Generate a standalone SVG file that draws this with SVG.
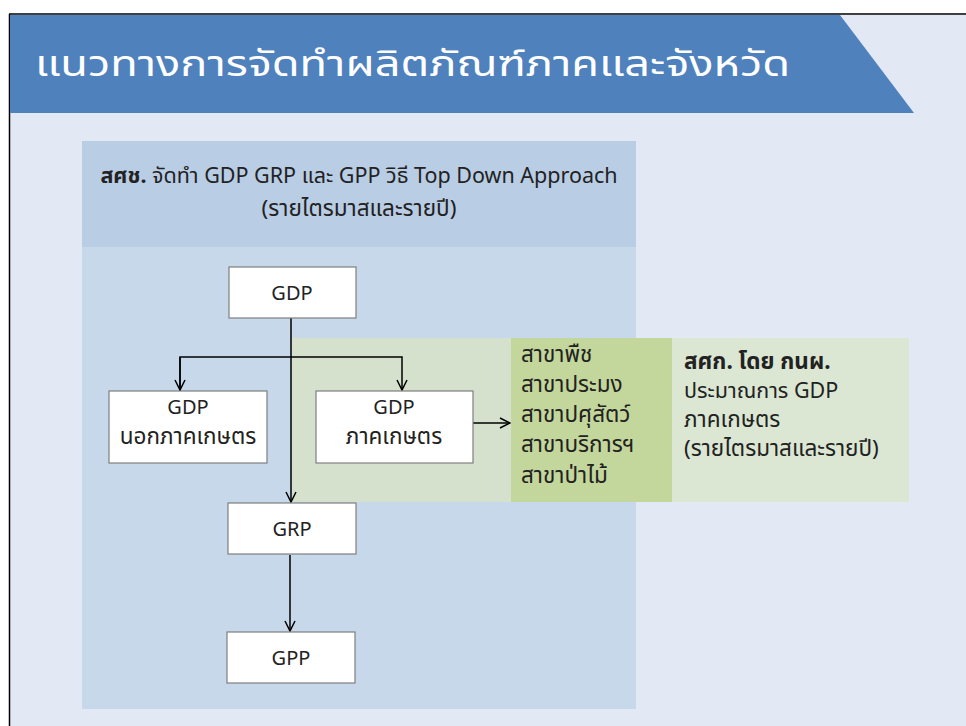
<svg xmlns="http://www.w3.org/2000/svg" width="966" height="726" viewBox="0 0 966 726">
<style>
.t{font-family:"Noto Sans","Noto Sans Thai","Leelawadee UI",Tahoma,sans-serif;font-size:20px;fill:#222222}
.th{font-size:22.5px}
.mx{font-size:21.5px}
.c{text-anchor:middle}
.b{font-weight:bold}
.box{fill:#ffffff;stroke:#7f7f7f;stroke-width:1.2}
.ln{fill:none;stroke:#000;stroke-width:1.5}
</style>
<defs>
<marker id="ah" viewBox="0 0 12 12" refX="11" refY="6" markerWidth="12" markerHeight="12" markerUnits="userSpaceOnUse" orient="auto">
<path d="M1,1 L11,6 L1,11" fill="none" stroke="#000" stroke-width="1.5"/>
</marker>
</defs>
<rect x="0" y="0" width="966" height="726" fill="#ffffff"/>
<rect x="10" y="15" width="956" height="711" fill="#e2e9f5"/>
<path d="M9,14 H966 M9.5,14 V726" stroke="#000" stroke-width="1.5" fill="none"/>
<g id="header">
<path d="M10,15 H840 L914,113 H10 Z" fill="#4f81bd"/>
<text x="35" y="76" font-family="'Noto Sans','Noto Sans Thai',sans-serif" font-size="36" fill="#ffffff" textLength="755" lengthAdjust="spacingAndGlyphs">แนวทางการจัดทำผลิตภัณฑ์ภาคและจังหวัด</text>
</g>
<g id="nesdb-panel">
<rect x="82" y="141" width="554" height="568" fill="#c6d8ea"/>
<rect x="82" y="141" width="554" height="106" fill="#b9cde5"/>
<text class="t mx c" x="359" y="183"><tspan class="b">สศช.</tspan> จัดทำ GDP GRP และ GPP วิธี Top Down Approach</text>
<text class="t th c" x="359" y="216">(รายไตรมาสและรายปี)</text>
</g>
<g id="oae-panel">
<rect x="292" y="338" width="219" height="164" fill="#d5e0cd"/>
<rect x="511" y="338" width="161" height="164" fill="#c3d69b"/>
<rect x="672" y="338" width="237" height="164" fill="#dbe7d2"/>
</g>
<g id="branches">
<text class="t th" x="521" y="362">สาขาพืช</text>
<text class="t th" x="521" y="392">สาขาประมง</text>
<text class="t th" x="521" y="422">สาขาปศุสัตว์</text>
<text class="t th" x="521" y="452">สาขาบริการฯ</text>
<text class="t th" x="521" y="483">สาขาป่าไม้</text>
</g>
<g id="oae-text">
<text class="t th b" x="684" y="369">สศก. โดย กนผ.</text>
<text class="t mx" x="684" y="398">ประมาณการ GDP</text>
<text class="t th" x="684" y="427">ภาคเกษตร</text>
<text class="t th" x="684" y="456">(รายไตรมาสและรายปี)</text>
</g>
<g id="connectors">
<path class="ln" d="M291,318 V502" marker-end="url(#ah)"/>
<path class="ln" d="M180,391 V357 H402 V390" marker-end="url(#ah)"/>
<path class="ln" d="M180,357 V390" marker-end="url(#ah)"/>
<path class="ln" d="M473,423 H510" marker-end="url(#ah)"/>
<path class="ln" d="M290,555 V631" marker-end="url(#ah)"/>
</g>
<g id="gdp">
<rect class="box" x="229" y="267" width="127" height="51"/>
<text class="t c" x="292" y="300">GDP</text>
</g>
<g id="gdp-nonagri">
<rect class="box" x="109" y="391" width="158" height="72"/>
<text class="t c" x="188" y="414">GDP</text>
<text class="t th c" x="188" y="444">นอกภาคเกษตร</text>
</g>
<g id="gdp-agri">
<rect class="box" x="316" y="391" width="157" height="72"/>
<text class="t c" x="394" y="414">GDP</text>
<text class="t th c" x="394" y="444">ภาคเกษตร</text>
</g>
<g id="grp">
<rect class="box" x="228" y="503" width="128" height="51"/>
<text class="t c" x="292" y="536">GRP</text>
</g>
<g id="gpp">
<rect class="box" x="227" y="632" width="128" height="51"/>
<text class="t c" x="291" y="665">GPP</text>
</g>
</svg>
